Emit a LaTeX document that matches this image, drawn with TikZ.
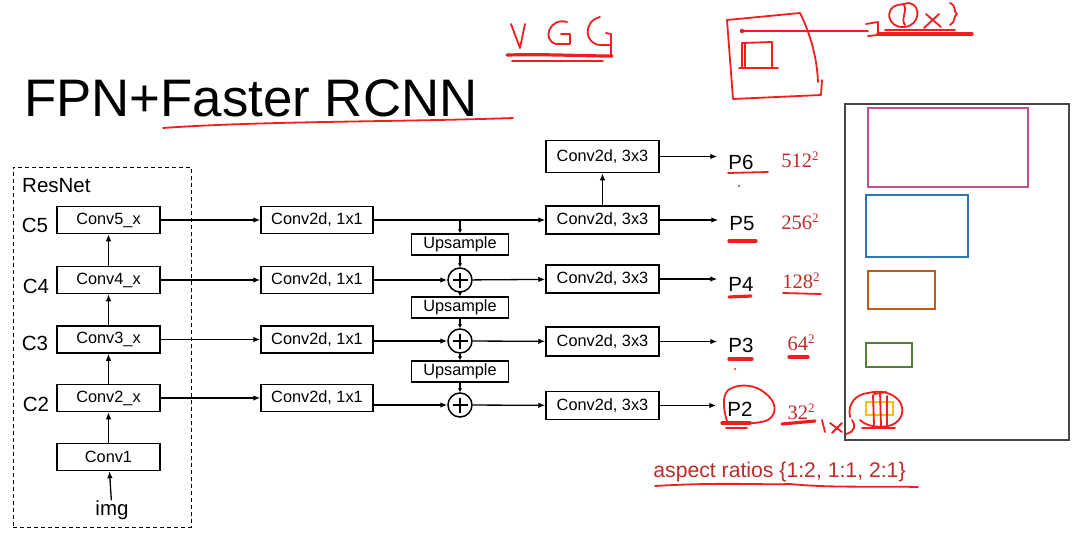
\documentclass[tikz,border=0pt]{standalone}
\usepackage{fontspec}
\setmainfont{Liberation Sans}
\newfontfamily\redserif{Liberation Serif}
\usetikzlibrary{arrows.meta,calc}
\definecolor{inkred}{RGB}{240,30,30}
\definecolor{txtred}{RGB}{192,42,42}
\definecolor{boxmag}{RGB}{196,76,140}
\definecolor{boxblue}{RGB}{46,117,182}
\definecolor{boxorange}{RGB}{197,90,17}
\definecolor{boxgreen}{RGB}{84,130,53}
\definecolor{boxyellow}{RGB}{255,192,0}
\definecolor{frame}{RGB}{70,70,70}
\newcommand{\sqtwo}{\raisebox{6.5pt}{\fontsize{13}{13}\selectfont 2}}
\begin{document}
\begin{tikzpicture}[x=1pt,y=-1pt,
  blk/.style={draw,line width=1.5pt,inner sep=0pt,minimum height=27pt,
    font=\fontsize{16.3}{19}\selectfont},
  resblk/.style={blk,minimum width=103pt},
  onebox/.style={blk,minimum width=112pt},
  threebox/.style={blk,minimum width=113pt,minimum height=28pt},
  upbox/.style={blk,minimum width=97pt,minimum height=21pt},
  plusnode/.style={circle,draw,line width=1.5pt,minimum size=24pt,inner sep=0pt,
    path picture={
      \draw[line width=1.8pt] ([yshift=-4.5pt]path picture bounding box.north) -- ([yshift=4.5pt]path picture bounding box.south);
      \draw[line width=1.8pt] ([xshift=4.5pt]path picture bounding box.west) -- ([xshift=-4.5pt]path picture bounding box.east);}},
  lbl/.style={inner sep=0pt,font=\fontsize{20.5}{24}\selectfont},
  plbl/.style={inner xsep=11pt,inner ysep=0pt,font=\fontsize{20.5}{24}\selectfont},
  sz/.style={inner sep=0pt,text=txtred,font=\redserif\fontsize{20.5}{24}\selectfont},
  arr/.style={-{Latex[length=7pt,width=5.5pt]},line width=1.3pt},
  sarr/.style={-{Latex[length=4pt,width=4.5pt]},line width=1.3pt},
  ink/.style={draw=inkred,line width=1.8pt,line cap=round,line join=round},
  inkthick/.style={draw=inkred,line width=3.2pt,line cap=round,line join=round}
]
\useasboundingbox (0,0) rectangle (1079,535);

% title
\node[anchor=base west,inner sep=0pt,font=\fontsize{52.8}{60}\selectfont] (title) at (24,117) {FPN+Faster RCNN};
\draw[ink] (163,128) .. controls (260,121) and (400,122) .. (513,118);

% ResNet dashed frame
\node[draw,dash pattern=on 4pt off 3pt,line width=1pt,minimum width=178pt,minimum height=360pt,inner sep=0pt] (resbox) at (102,347) {};
\node[lbl,anchor=west] (resnet) at (22,186) {ResNet};

\node[resblk] (c5) at (108.5,220) {Conv5\_x};
\node[resblk] (c4) at (108.5,280) {Conv4\_x};
\node[resblk] (c3) at (108.5,339.5) {Conv3\_x};
\node[resblk] (c2) at (108.5,398) {Conv2\_x};
\node[resblk] (c1) at (108.5,457) {Conv1};
\node[lbl] (img) at (112,510) {img};
\node[lbl] (L5) at (35,225) {C5};
\node[lbl] (L4) at (36,286) {C4};
\node[lbl] (L3) at (35,343) {C3};
\node[lbl] (L2) at (36,404) {C2};

% lateral 1x1
\node[onebox] (a5) at (317,220) {Conv2d, 1x1};
\node[onebox] (a4) at (317,280) {Conv2d, 1x1};
\node[onebox] (a3) at (317,339.5) {Conv2d, 1x1};
\node[onebox] (a2) at (317,398) {Conv2d, 1x1};

% upsample and add
\node[upbox] (up1) at (460,244.5) {Upsample};
\node[upbox] (up2) at (460,307.5) {Upsample};
\node[upbox] (up3) at (460,371.5) {Upsample};
\node[plusnode] (p1) at (460,280) {};
\node[plusnode] (p2) at (460,341) {};
\node[plusnode] (p3) at (460,405) {};

% 3x3
\node[threebox,minimum height=32pt] (b6) at (602.5,156.5) {Conv2d, 3x3};
\node[threebox] (b5) at (602.5,220) {Conv2d, 3x3};
\node[threebox] (b4) at (602.5,279) {Conv2d, 3x3};
\node[threebox,minimum height=29pt] (b3) at (602.5,341.5) {Conv2d, 3x3};
\node[threebox] (b2) at (602.5,405.5) {Conv2d, 3x3};

% outputs
\node[plbl] (P6) at (741,162) {P6};
\node[plbl] (P5) at (742,224) {P5};
\node[plbl] (P4) at (741,284) {P4};
\node[plbl] (P3) at (741,345) {P3};
\node[plbl] (P2) at (740,409) {P2};

\node[sz] (s6) at (800,160) {512\sqtwo};
\node[sz] (s5) at (800,222) {256\sqtwo};
\node[sz] (s4) at (801,281) {128\sqtwo};
\node[sz] (s3) at (801,343) {64\sqtwo};
\node[sz] (s2) at (801,412) {32\sqtwo};

% backbone arrows
\draw[arr] (img) -- (c1);
\draw[arr] (c1) -- (c2);
\draw[arr] (c2) -- (c3);
\draw[arr] (c3) -- (c4);
\draw[arr] (c4) -- (c5);
\draw[arr] (c5) -- (a5);
\draw[arr] (c4) -- (a4);
\draw[arr] (c3) -- (a3);
\draw[arr] (c2) -- (a2);

% top-down path
\draw[arr] (a5) -- (b5);
\coordinate (j5) at (up1.north |- a5.east);
\draw[sarr] (j5) -- (up1.north);
\draw[sarr] (up1) -- (p1);
\draw[arr] (a4) -- (p1);
\draw[arr] (p1) -- (b4);
\draw[sarr] (p1) -- (up2);
\draw[sarr] (up2) -- (p2);
\draw[arr] (a3.east |- p2.west) -- (p2);
\draw[arr] (p2) -- (b3);
\draw[sarr] (p2) -- (up3);
\draw[sarr] (up3) -- (p3);
\draw[arr] (a2.east |- p3.west) -- (p3);
\draw[arr] (p3) -- (b2);
\draw[arr] (b5) -- (b6);

\draw[arr] (b6.east) -- (b6.east -| P6.west);
\draw[arr] (b5.east) -- (b5.east -| P5.west);
\draw[arr] (b4.east) -- (b4.east -| P4.west);
\draw[arr] (b3.east) -- (b3.east -| P3.west);
\draw[arr] (b2.east) -- (b2.east -| P2.west);

% anchors panel
\draw[draw=frame,line width=1.3pt] (845,104) rectangle (1069,440);
\draw[draw=boxmag,line width=1.8pt] (868,108) rectangle (1028,187);
\draw[draw=boxblue,line width=1.8pt] (866,195) rectangle (968,257);
\draw[draw=boxorange,line width=1.8pt] (868,271) rectangle (935,309);
\draw[draw=boxgreen,line width=1.8pt] (866,343) rectangle (912,367);
\draw[draw=boxyellow,line width=1.8pt] (866,402) rectangle (893,415);

\node[inner sep=0pt,text=txtred,font=\fontsize{21.2}{25}\selectfont] (ar) at (779.5,472) {aspect ratios \{1:2, 1:1, 2:1\}};
\draw[ink] (655,486) .. controls (720,482) and (760,485) .. (790,484) .. controls (830,488) and (870,486) .. (918,487);

% handwritten notes: VGG
\draw[ink] (511,24) -- (520,48) -- (525,24);
\draw[ink] (567,22) .. controls (550,17) and (541,40) .. (556,44) -- (570,44) -- (570,34) -- (561,34);
\draw[ink] (600,17) .. controls (583,21) and (584,44) .. (600,45) -- (611,45) -- (611,34) -- (606,33);
\draw[ink] (611,45) -- (611,56);
\draw[inkthick] (507,55) .. controls (550,54) and (580,56) .. (612,56);
\draw[ink] (512,61) -- (603,61);

% handwritten notes: feature map sketch
\draw[ink] (727,20) -- (800,13) .. controls (810,33) and (817,57) .. (818,82);
\draw[ink] (822,80) -- (821,95) -- (733,99) -- (727,20);
\draw[ink] (742,43) -- (742,68);
\draw[ink] (745,44) -- (745,67);
\draw[ink] (742,43) -- (772,42) -- (772,68);
\draw[ink] (739,68) -- (778,68);
\fill[inkred] (742,31) circle (2.2pt);
\draw[ink] (742,31) -- (868,31);
\draw[ink] (866,24) -- (878,22) -- (878,35) -- (868,36);
\draw[ink] (898,5) .. controls (884,8) and (887,28) .. (904,27) .. controls (920,26) and (922,5) .. (909,3) -- (898,5);
\draw[ink] (904,5) .. controls (908,12) and (900,18) .. (905,25);
\draw[ink] (926,14) -- (941,27);
\draw[ink] (939,14) -- (924,28);
\draw[ink] (950,3) .. controls (957,6) and (953,12) .. (957,14) .. controls (953,16) and (956,22) .. (950,25);
\draw[inkthick] (878,34) -- (972,34);
\draw[ink] (885,30) -- (955,30);

% handwritten notes: underlines and circles
\draw[ink] (728,173) -- (768,172);
\fill[inkred] (739,186) circle (1.2pt);
\draw[inkthick] (729,241) -- (756,241);
\draw[inkthick] (729,297) -- (751,296);
\draw[inkthick] (729,359) -- (752,359);
\fill[inkred] (735,369) circle (1.2pt);
\draw[inkthick] (722,423) -- (750,423);
\draw[ink] (726,428) -- (747,428);
\draw[ink] (783,293) -- (821,294);
\draw[inkthick] (789,357) -- (808,357);
\draw[inkthick] (782,424) -- (815,421);
\draw[ink] (727,421) .. controls (722,405) and (723,392) .. (730,389) .. controls (740,383) and (756,385) .. (765,393) .. controls (775,400) and (779,413) .. (768,420) .. controls (758,424) and (742,424) .. (733,422);
\draw[ink] (822,420) -- (825,432);
\draw[ink] (830,423) -- (842,432);
\draw[ink] (842,423) -- (832,433);
\draw[ink] (850,417) .. controls (847,403) and (857,394) .. (868,393) .. controls (880,390) and (893,392) .. (900,402) .. controls (906,412) and (900,424) .. (888,426) .. controls (878,428) and (866,426) .. (860,420);
\draw[ink] (852,420) .. controls (856,425) and (855,432) .. (846,434);
\draw[ink] (873,395) -- (874,425);
\draw[ink] (880,392) -- (881,426);
\draw[ink] (887,396) -- (887,425);
\draw[ink] (874,394) -- (886,392);
\draw[ink] (862,428) -- (895,428);
\end{tikzpicture}
\end{document}
